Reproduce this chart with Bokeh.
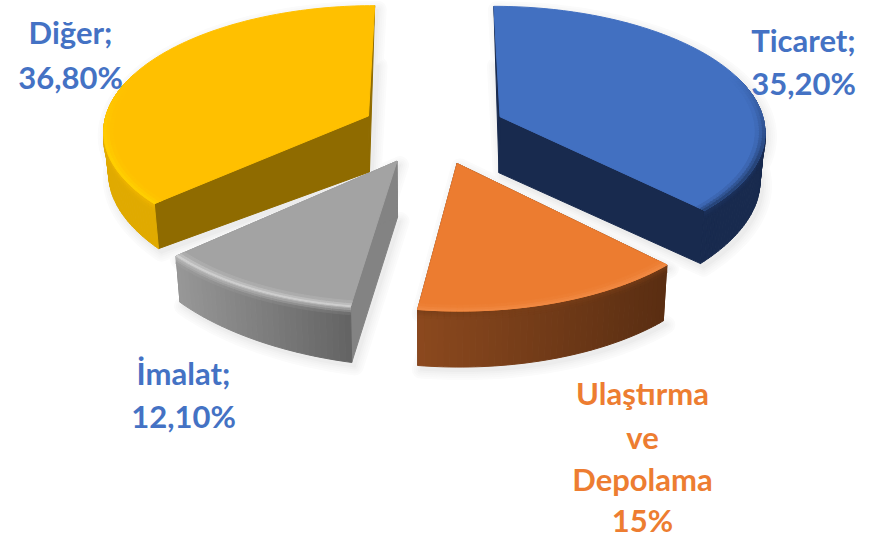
import math
from bokeh.plotting import figure
from bokeh.models import Range1d
from bokeh.core.properties import value
from bokeh.embed import file_html
from bokeh.resources import INLINE

# Printed data labels
categories = ["Ticaret", "Ulaştırma ve Depolama", "İmalat", "Diğer"]
value_labels = ["35,20%", "15%", "12,10%", "36,80%"]
label_values = [35.2, 15.0, 12.1, 36.8]
# Shares as the slices are actually drawn (in percent)
drawn_share = [37.6, 14.6, 11.1, 36.7]

# Styles
TOP = [(66, 112, 193), (236, 124, 48), (163, 163, 163), (255, 192, 0)]
CUT = [(24, 42, 78), (98, 50, 20), (131, 131, 131), (143, 107, 0)]
SIDE_L = [(24, 42, 78), (140, 73, 30), (152, 152, 152), (224, 170, 0)]
SIDE_R = [(24, 42, 78), (90, 46, 18), (100, 100, 100), (224, 170, 0)]
RIM_IN = [(34, 60, 108), (242, 140, 70), (214, 214, 214), (255, 210, 0)]
RIM_OUT = [(30, 52, 96), (120, 62, 24), (190, 190, 190), (240, 182, 0)]
TEXT_BLUE, TEXT_ORANGE = "#4472c4", "#ed7d31"

# Projection of the tilted disc
CX, A, YV, H, C = 434.0, 266.0, -1059.0, 1190.0, 0.105
EXPLODE, DEPTH, SHRINK = 0.262, 56.0, 0.985
EXPLODE_DX = [0.007, 0.0, -0.015, -0.012]
EXPLODE_DY = [0.02, 0.0, 0.0, 0.02]


def top_pt(X, Y):
    w = 1 + C * Y
    return CX + A * X / w, YV + H / w


def bot_pt(X, Y):
    x, y = top_pt(X, Y)
    dx = x - CX
    d = DEPTH - 0.055 * max(0.0, -dx - 80) - 0.07 * max(0.0, dx - 230)
    return CX + dx * SHRINK, y + d


def mix(a, b, t):
    return tuple(int(round(a[i] + (b[i] - a[i]) * t)) for i in range(3))


def hexc(c):
    return "#%02x%02x%02x" % c


total = sum(drawn_share)
edges = [0.0]
for s in drawn_share:
    edges.append(edges[-1] + 360.0 * s / total)

paint_order = [3, 0, 2, 1]
shadow_polys = []
xs, ys, cs = [], [], []


def add(poly, col):
    xs.append([q[0] for q in poly])
    ys.append([q[1] for q in poly])
    cs.append(hexc(col))


for i in paint_order:
    a0, a1 = math.radians(edges[i]), math.radians(edges[i + 1])
    mid = (a0 + a1) / 2
    ex = EXPLODE * math.sin(mid) + EXPLODE_DX[i]
    ey = EXPLODE * math.cos(mid) + EXPLODE_DY[i]
    n = max(30, int((edges[i + 1] - edges[i]) / 1.2))
    th = [a0 + (a1 - a0) * k / n for k in range(n + 1)]

    def rim(r, t):
        return ex + r * math.sin(t), ey + r * math.cos(t)

    top_poly = [top_pt(ex, ey)] + [top_pt(*rim(1, t)) for t in th]
    bot_poly = [bot_pt(ex, ey)] + [bot_pt(*rim(1, t)) for t in th]
    shadow_polys.append(top_poly)
    shadow_polys.append(bot_poly)

    # cut faces; the backward-facing one shows only as a thin sliver
    for t in (a0, a1):
        if math.cos(t) > 0.5:
            add([top_pt(ex, ey), top_pt(*rim(1, t)), bot_pt(ex, ey)], CUT[i])
        else:
            add([top_pt(ex, ey), top_pt(*rim(1, t)), bot_pt(*rim(1, t)), bot_pt(ex, ey)], CUT[i])

    # outer wall with its gradient
    front = [top_pt(*rim(1, t))[0] for t in th]
    xmin, xmax = min(front), max(front)
    for k in range(n):
        t0, t1 = th[k], th[k + 1]
        if math.cos((t0 + t1) / 2) > 0.3:
            continue
        p0, p1 = rim(1, t0), rim(1, t1)
        u = (top_pt(*p0)[0] - xmin) / max(1.0, xmax - xmin)
        side = mix(SIDE_L[i], SIDE_R[i], u)
        add([top_pt(*p0), top_pt(*p1), bot_pt(*p1), bot_pt(*p0)], side)
    # soft band just under the rim
    for k in range(n):
        t0, t1 = th[k], th[k + 1]
        if math.cos((t0 + t1) / 2) > 0.3:
            continue
        p0, p1 = rim(1, t0), rim(1, t1)
        u = (top_pt(*p0)[0] - xmin) / max(1.0, xmax - xmin)
        side = mix(SIDE_L[i], SIDE_R[i], u)
        steps = 4
        for j in range(steps):
            d0, d1 = j * 2.0, (j + 1) * 2.0
            col = mix(RIM_OUT[i], side, (j + 0.5) / steps)
            q0, q1 = top_pt(*p0), top_pt(*p1)
            add([(q0[0], q0[1] + d0), (q1[0], q1[1] + d0), (q1[0], q1[1] + d1), (q0[0], q0[1] + d1)], col)

    # top face
    add(top_poly, TOP[i])

    # bevel on the top face, strongest where the rim faces the viewer
    for k in range(n):
        t0, t1 = th[k], th[k + 1]
        tm = (t0 + t1) / 2
        f = min(1.0, max(0.0, (0.35 - math.cos(tm)) / 0.7))
        if f <= 0:
            continue
        steps = 3
        for j in range(steps):
            r0, r1 = 1 - 0.012 * j, 1 - 0.012 * (j + 1)
            col = mix(RIM_IN[i], TOP[i], 1 - f * (1 - (j + 0.5) / steps))
            add([top_pt(*rim(r0, t0)), top_pt(*rim(r0, t1)), top_pt(*rim(r1, t1)), top_pt(*rim(r1, t0))], col)

p = figure(width=873, height=539, output_backend="svg", toolbar_location=None,
           x_range=Range1d(0, 873), y_range=Range1d(539, 0), min_border=0,
           margin=(0, 0, 0, 0), background_fill_color="white",
           outline_line_color=None, border_fill_color="white")
p.axis.visible = False
p.grid.visible = False

# soft shadow: concentric widened outlines, light to dark
sx = [[q[0] + 3 for q in poly] for poly in shadow_polys]
sy = [[q[1] + 4 for q in poly] for poly in shadow_polys]
for lw, shade in [(18, 251), (14, 248), (10, 245), (6, 241), (2, 236)]:
    c = hexc((shade, shade, shade))
    p.patches(sx, sy, fill_color=c, line_color=c, line_width=lw, line_join="round")

p.patches(xs, ys, fill_color=cs, line_color=cs, line_width=1.0)

# labels, one text per printed line
label_lines = [
    ([categories[3] + ";", value_labels[3]], 70, [31, 76], TEXT_BLUE),
    ([categories[0] + ";", value_labels[0]], 803, [39, 82], TEXT_BLUE),
    ([categories[2] + ";", value_labels[2]], 183, [372, 415], TEXT_BLUE),
    (["Ulaştırma", "ve", "Depolama", value_labels[1]], 642, [392, 436, 478, 519], TEXT_ORANGE),
]
for lines, lx, lys, col in label_lines:
    p.text(x=[lx] * len(lines), y=lys, text=lines, text_color=col,
           text_font=value("Lato"), text_font_style="bold", text_font_size="31px",
           text_align="center", text_baseline="middle")

open("out.html", "w").write(file_html(p, INLINE))
